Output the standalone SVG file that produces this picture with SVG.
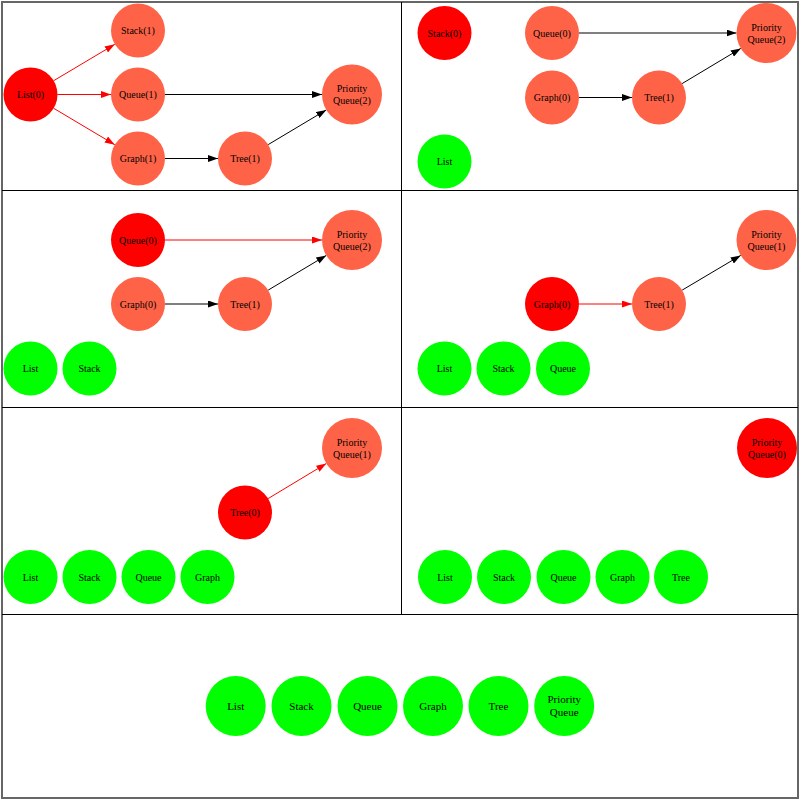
<svg xmlns="http://www.w3.org/2000/svg" width="800" height="800" viewBox="0 0 800 800">
<defs>
<style>
.t{fill:#ff6347}.r{fill:#ff0000}.g{fill:#00ff00}
text{font-family:"Liberation Serif","Times New Roman",serif;font-size:10px;fill:#000;text-anchor:middle}
.big text{font-size:11px}
.eb{stroke:#000;stroke-width:1;fill:none;marker-end:url(#ab)}
.er{stroke:#ff0000;stroke-width:1;fill:none;marker-end:url(#ar)}
.frame{fill:none;stroke:#000;stroke-width:1}
</style>
<marker id="ab" markerUnits="userSpaceOnUse" markerWidth="10" markerHeight="7" refX="10" refY="3.5" orient="auto"><path d="M0,0 L10,3.5 L0,7 z" fill="#000"/></marker>
<marker id="ar" markerUnits="userSpaceOnUse" markerWidth="10" markerHeight="7" refX="10" refY="3.5" orient="auto"><path d="M0,0 L10,3.5 L0,7 z" fill="#ff0000"/></marker>
</defs>
<rect x="0" y="0" width="800" height="800" fill="#fff"/>
<g id="frames">
<rect x="2" y="2" width="796" height="796" fill="none" stroke="#666" stroke-width="2"/>
<line class="frame" x1="2" y1="190.5" x2="798" y2="190.5"/>
<line class="frame" x1="2" y1="407.5" x2="798" y2="407.5"/>
<line class="frame" x1="2" y1="614.5" x2="798" y2="614.5"/>
<line class="frame" x1="401.5" y1="2" x2="401.5" y2="614"/>
</g>
<g id="connectors">
<line class="er" x1="53.7" y1="80.7" x2="114.8" y2="44.3"/>
<line class="er" x1="57.5" y1="94.5" x2="111" y2="94.5"/>
<line class="er" x1="53.7" y1="108.3" x2="114.8" y2="144.7"/>
<line class="eb" x1="165" y1="94.5" x2="322" y2="94.5"/>
<line class="eb" x1="165" y1="158.5" x2="218" y2="158.5"/>
<line class="eb" x1="268.2" y1="144.6" x2="326.3" y2="109.9"/>
<line class="eb" x1="579" y1="33" x2="736.5" y2="33"/>
<line class="eb" x1="579" y1="97.5" x2="632" y2="97.5"/>
<line class="eb" x1="682.1" y1="83.6" x2="740.8" y2="48.4"/>
<line class="er" x1="165" y1="240" x2="322" y2="240"/>
<line class="eb" x1="165" y1="304" x2="218" y2="304"/>
<line class="eb" x1="268.2" y1="290.1" x2="326.3" y2="255.4"/>
<line class="er" x1="579" y1="304" x2="632" y2="304"/>
<line class="eb" x1="682.2" y1="290.1" x2="740.7" y2="255.4"/>
<line class="er" x1="268.1" y1="498.6" x2="326.3" y2="463.5"/>
</g>
<g id="p1-list"><circle class="r" cx="30.5" cy="94.5" r="27"/><text x="30.5" y="98">List(0)</text></g>
<g id="p1-stack"><circle class="t" cx="138" cy="30.5" r="27"/><text x="138" y="34">Stack(1)</text></g>
<g id="p1-queue"><circle class="t" cx="138" cy="94.5" r="27"/><text x="138" y="98">Queue(1)</text></g>
<g id="p1-graph"><circle class="t" cx="138" cy="158.5" r="27"/><text x="138" y="162">Graph(1)</text></g>
<g id="p1-tree"><circle class="t" cx="245" cy="158.5" r="27"/><text x="245" y="162">Tree(1)</text></g>
<g id="p1-pq"><circle class="t" cx="352" cy="94.5" r="30"/><text x="352" y="92">Priority</text><text x="352" y="104">Queue(2)</text></g>
<g id="p2-stack"><circle class="r" cx="444.5" cy="33" r="27"/><text x="444.5" y="36.5">Stack(0)</text></g>
<g id="p2-queue"><circle class="t" cx="552" cy="33" r="27"/><text x="552" y="36.5">Queue(0)</text></g>
<g id="p2-graph"><circle class="t" cx="552" cy="97.5" r="27"/><text x="552" y="101">Graph(0)</text></g>
<g id="p2-tree"><circle class="t" cx="659" cy="97.5" r="27"/><text x="659" y="101">Tree(1)</text></g>
<g id="p2-pq"><circle class="t" cx="766.5" cy="33" r="30"/><text x="766.5" y="30.5">Priority</text><text x="766.5" y="42.5">Queue(2)</text></g>
<g id="p2-list"><circle class="g" cx="444.5" cy="161.5" r="27"/><text x="444.5" y="165">List</text></g>
<g id="p3-queue"><circle class="r" cx="138" cy="240" r="27"/><text x="138" y="243.5">Queue(0)</text></g>
<g id="p3-graph"><circle class="t" cx="138" cy="304" r="27"/><text x="138" y="307.5">Graph(0)</text></g>
<g id="p3-tree"><circle class="t" cx="245" cy="304" r="27"/><text x="245" y="307.5">Tree(1)</text></g>
<g id="p3-pq"><circle class="t" cx="352" cy="240" r="30"/><text x="352" y="237.5">Priority</text><text x="352" y="249.5">Queue(2)</text></g>
<g id="p3-list"><circle class="g" cx="30.5" cy="368.5" r="27"/><text x="30.5" y="372">List</text></g>
<g id="p3-stack"><circle class="g" cx="89.5" cy="368.5" r="27"/><text x="89.5" y="372">Stack</text></g>
<g id="p4-graph"><circle class="r" cx="552" cy="304" r="27"/><text x="552" y="307.5">Graph(0)</text></g>
<g id="p4-tree"><circle class="t" cx="659" cy="304" r="27"/><text x="659" y="307.5">Tree(1)</text></g>
<g id="p4-pq"><circle class="t" cx="766.5" cy="240" r="30"/><text x="766.5" y="237.5">Priority</text><text x="766.5" y="249.5">Queue(1)</text></g>
<g id="p4-list"><circle class="g" cx="444.5" cy="368.5" r="27"/><text x="444.5" y="372">List</text></g>
<g id="p4-stack"><circle class="g" cx="503.5" cy="368.5" r="27"/><text x="503.5" y="372">Stack</text></g>
<g id="p4-queue"><circle class="g" cx="563" cy="368.5" r="27"/><text x="563" y="372">Queue</text></g>
<g id="p5-pq"><circle class="t" cx="352" cy="448" r="30"/><text x="352" y="445.5">Priority</text><text x="352" y="457.5">Queue(1)</text></g>
<g id="p5-tree"><circle class="r" cx="245" cy="512.5" r="27"/><text x="245" y="516">Tree(0)</text></g>
<g id="p5-list"><circle class="g" cx="30.5" cy="577" r="27"/><text x="30.5" y="580.5">List</text></g>
<g id="p5-stack"><circle class="g" cx="89.5" cy="577" r="27"/><text x="89.5" y="580.5">Stack</text></g>
<g id="p5-queue"><circle class="g" cx="148.5" cy="577" r="27"/><text x="148.5" y="580.5">Queue</text></g>
<g id="p5-graph"><circle class="g" cx="207.5" cy="577" r="27"/><text x="207.5" y="580.5">Graph</text></g>
<g id="p6-pq"><circle class="r" cx="767" cy="448" r="30"/><text x="767" y="445.5">Priority</text><text x="767" y="457.5">Queue(0)</text></g>
<g id="p6-list"><circle class="g" cx="445" cy="577" r="27"/><text x="445" y="580.5">List</text></g>
<g id="p6-stack"><circle class="g" cx="504" cy="577" r="27"/><text x="504" y="580.5">Stack</text></g>
<g id="p6-queue"><circle class="g" cx="563.5" cy="577" r="27"/><text x="563.5" y="580.5">Queue</text></g>
<g id="p6-graph"><circle class="g" cx="622.5" cy="577" r="27"/><text x="622.5" y="580.5">Graph</text></g>
<g id="p6-tree"><circle class="g" cx="681" cy="577" r="27"/><text x="681" y="580.5">Tree</text></g>
<g class="big">
<g id="p7-list"><circle class="g" cx="235.7" cy="706" r="30"/><text x="235.7" y="709.5">List</text></g>
<g id="p7-stack"><circle class="g" cx="301.5" cy="706" r="30"/><text x="301.5" y="709.5">Stack</text></g>
<g id="p7-queue"><circle class="g" cx="367.5" cy="706" r="30"/><text x="367.5" y="709.5">Queue</text></g>
<g id="p7-graph"><circle class="g" cx="433" cy="706" r="30"/><text x="433" y="709.5">Graph</text></g>
<g id="p7-tree"><circle class="g" cx="498.5" cy="706" r="30"/><text x="498.5" y="709.5">Tree</text></g>
<g id="p7-pq"><circle class="g" cx="564.2" cy="706" r="30"/><text x="564.2" y="703">Priority</text><text x="564.2" y="715.5">Queue</text></g>
</g>
</svg>
